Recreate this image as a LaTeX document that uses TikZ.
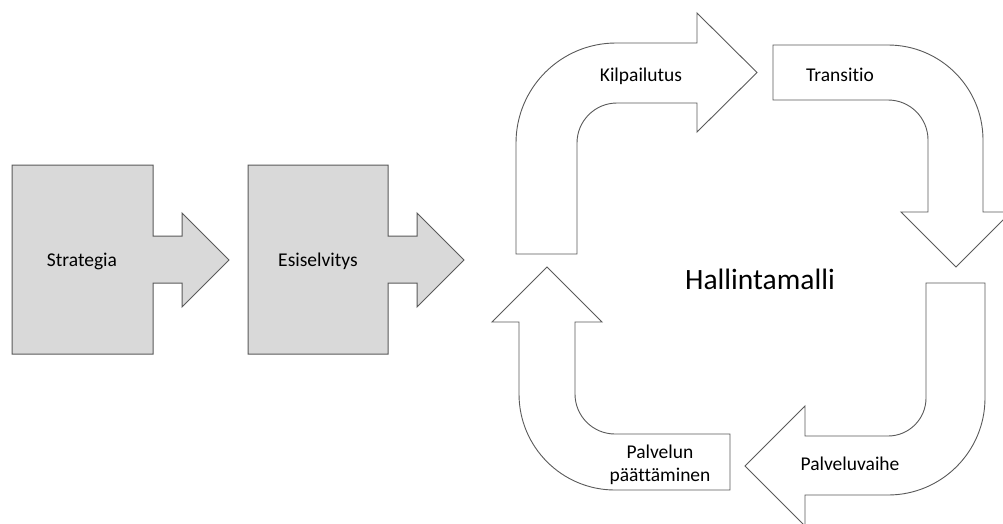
\documentclass[tikz,border=0pt]{standalone}
\usepackage{fontspec}
\setmainfont[Ligatures=NoCommon]{Carlito}
\definecolor{boxfill}{RGB}{217,217,217}
\definecolor{edge}{RGB}{90,90,90}
\begin{document}
\begin{tikzpicture}[x=1pt,y=-1pt,
  graybox/.style={draw=edge,fill=boxfill,line width=1pt,line join=miter},
  whitearrow/.style={draw=edge,fill=white,line width=0.9pt,line join=miter},
  lbl/.style={anchor=base,inner sep=0pt,font=\fontsize{19.5}{24}\selectfont,text=black},
  big/.style={anchor=base,inner sep=0pt,font=\fontsize{29.5}{34}\selectfont,text=black}]
\useasboundingbox[fill=white] (0,0) rectangle (1003,523);
% Strategia block
\draw[graybox] (12,165) -- (153,165) -- (153,236) -- (182,236) -- (182,213) -- (229,260)
  -- (182,307) -- (182,283) -- (153,283) -- (153,354) -- (12,354) -- cycle;
% Esiselvitys block
\draw[graybox] (248,165) -- (388,165) -- (388,236) -- (417,236) -- (417,213) -- (464,260)
  -- (417,307) -- (417,283) -- (388,283) -- (388,354) -- (248,354) -- cycle;
% Kilpailutus arrow
\draw[whitearrow] (516,254) -- (516,143) arc[start angle=180,end angle=270,radius=100]
  -- (697,43) -- (697,13) -- (757,72.5) -- (697,132) -- (697,103) -- (617,103)
  arc[start angle=270,end angle=180,radius=40] -- (577,254) -- cycle;
% Transitio arrow
\draw[whitearrow] (773,45) -- (888,45) arc[start angle=-90,end angle=0,radius=95]
  -- (983,212) -- (1011,212) -- (956,267) -- (901,212) -- (928,212) -- (928,140)
  arc[start angle=0,end angle=-90,radius=40] -- (773,100) -- cycle;
% Palveluvaihe arrow
\draw[whitearrow] (926,283) -- (985,283) -- (985,398) arc[start angle=0,end angle=90,radius=97]
  -- (805,495) -- (805,526) -- (745,466) -- (805,406) -- (805,436) -- (888,436)
  arc[start angle=90,end angle=0,radius=38] -- cycle;
% Palvelun paattaminen arrow
\draw[whitearrow] (730,490) -- (615,490) arc[start angle=90,end angle=180,radius=96]
  -- (519,322) -- (492,322) -- (547,267) -- (602,322) -- (575,322) -- (575,394)
  arc[start angle=180,end angle=90,radius=40] -- (730,434) -- cycle;
% labels
\node[lbl] (strategia) at (82,266.7) {Strategia};
\node[lbl] (esiselvitys) at (318,266.7) {Esiselvitys};
\node[lbl] (kilpailutus) at (641,81) {Kilpailutus};
\node[lbl] (transitio) at (840,81) {Transitio};
\node[lbl] (palveluvaihe) at (850,470.7) {Palveluvaihe};
\node[lbl] (palvelun) at (660,458) {Palvelun};
\node[lbl] (paattaminen) at (660,481.7) {päättäminen};
\node[big] (hallintamalli) at (760,289) {Hallintamalli};
\end{tikzpicture}
\end{document}
